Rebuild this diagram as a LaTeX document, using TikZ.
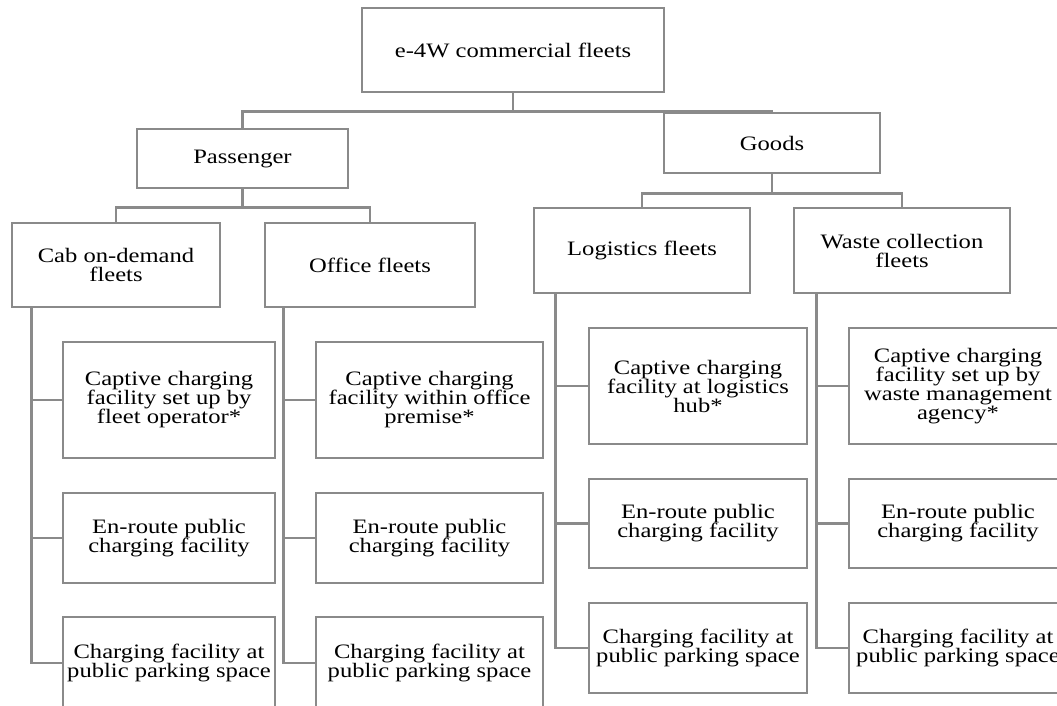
\documentclass[tikz,border=0pt]{standalone}
\usepackage{fontspec}
\setmainfont{Liberation Serif}[FakeStretch=1.2]
\definecolor{linegray}{HTML}{8A8A8A}
\tikzset{
    box/.style={draw=linegray, line width=2.8pt, align=center, inner sep=2pt,
        font=\fontsize{20.5}{19}\selectfont},
    link/.style={draw=linegray, line width=2.8pt}
}

\begin{document}
\begin{tikzpicture}[x=1pt, y=-1pt]
            \useasboundingbox (0,0) rectangle (1057,706);
            \clip (0,0) rectangle (1057,706);
            \fill[white] (0,0) rectangle (1057,706);

            % top of the tree
            \node[box, minimum width=302pt, minimum height=84pt] (root) at (513,50) {e-4W commercial fleets};
            \node[box, minimum width=211pt, minimum height=59pt] (pass) at (242.5,158.5) {Passenger};
            \node[box, minimum width=216pt, minimum height=60pt] (goods) at (772,143) {Goods};

            % fleet types
            \node[box, minimum width=208pt, minimum height=84pt] (cab) at (116,265) {Cab on-demand\\fleets};
            \node[box, minimum width=210pt, minimum height=84pt] (office) at (370,265) {Office fleets};
            \node[box, minimum width=216pt, minimum height=85pt] (logi) at (642,250.5) {Logistics fleets};
            \node[box, minimum width=216pt, minimum height=85pt] (waste) at (902,250.5) {Waste collection\\fleets};

            % charging options
            \node[box, minimum width=212pt, minimum height=116pt] (cab1) at (169,400) {Captive charging\\facility set up by\\fleet operator*};
            \node[box, minimum width=212pt, minimum height=90pt] (cab2) at (169,538) {En-route public\\charging facility};
            \node[box, minimum width=212pt, minimum height=92pt] (cab3) at (169,663) {Charging facility at\\public parking space};

            \node[box, minimum width=227pt, minimum height=116pt] (office1) at (429.5,400) {Captive charging\\facility within office\\premise*};
            \node[box, minimum width=227pt, minimum height=90pt] (office2) at (429.5,538) {En-route public\\charging facility};
            \node[box, minimum width=227pt, minimum height=92pt] (office3) at (429.5,663) {Charging facility at\\public parking space};

            \node[box, minimum width=218pt, minimum height=116pt] (logi1) at (698,386) {Captive charging\\facility at logistics\\hub*};
            \node[box, minimum width=218pt, minimum height=89pt] (logi2) at (698,523.5) {En-route public\\charging facility};
            \node[box, minimum width=218pt, minimum height=90pt] (logi3) at (698,648) {Charging facility at\\public parking space};

            \node[box, minimum width=218pt, minimum height=116pt] (waste1) at (958,386) {Captive charging\\facility set up by\\waste management\\agency*};
            \node[box, minimum width=218pt, minimum height=89pt] (waste2) at (958,523.5) {En-route public\\charging facility};
            \node[box, minimum width=218pt, minimum height=90pt] (waste3) at (958,648) {Charging facility at\\public parking space};

            % elbows between levels
            \draw[link] (root.south) -- ++(0,18) -| (pass.north);
            \draw[link] (root.south) -- ++(0,18) -| (goods.north);
            \draw[link] (pass.south) -- ++(0,18) -| (cab.north);
            \draw[link] (pass.south) -- ++(0,18) -| (office.north);
            \draw[link] (goods.south) -- ++(0,19) -| (logi.north);
            \draw[link] (goods.south) -- ++(0,19) -| (waste.north);

            % side spines down to the options
            \draw[link] ([xshift=21pt]cab.south west) |- (cab1.west);
            \draw[link] ([xshift=21pt]cab.south west) |- (cab2.west);
            \draw[link] ([xshift=21pt]cab.south west) |- (cab3.west);
            \draw[link] ([xshift=20pt]office.south west) |- (office1.west);
            \draw[link] ([xshift=20pt]office.south west) |- (office2.west);
            \draw[link] ([xshift=20pt]office.south west) |- (office3.west);
            \draw[link] ([xshift=23pt]logi.south west) |- (logi1.west);
            \draw[link] ([xshift=23pt]logi.south west) |- (logi2.west);
            \draw[link] ([xshift=23pt]logi.south west) |- (logi3.west);
            \draw[link] ([xshift=24pt]waste.south west) |- (waste1.west);
            \draw[link] ([xshift=24pt]waste.south west) |- (waste2.west);
            \draw[link] ([xshift=24pt]waste.south west) |- (waste3.west);
        \end{tikzpicture}
\end{document}
